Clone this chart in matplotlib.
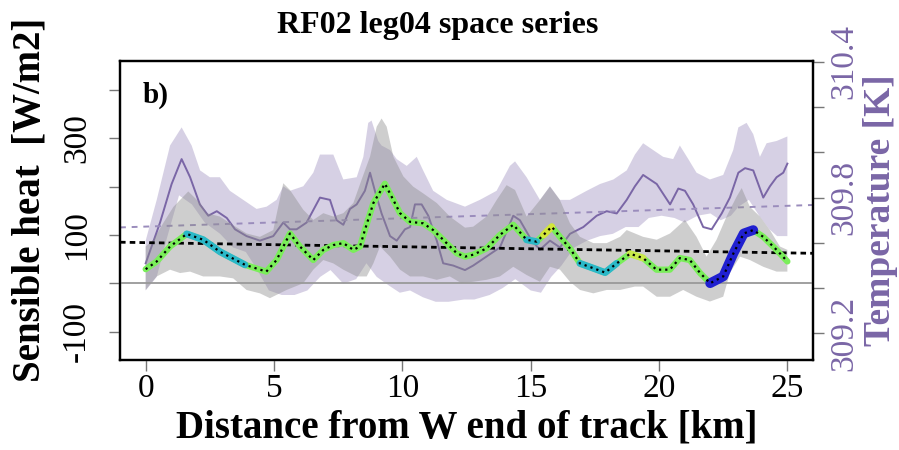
import numpy as np
import matplotlib.pyplot as plt

plt.rcParams['font.family'] = ['Liberation Serif', 'DejaVu Serif']

# sensible heat flux along the leg [W/m2]
heat_km = [0.0, 0.43, 0.95, 1.6, 2.24, 2.9, 3.87, 4.7, 5.1, 5.62, 6.01, 6.53, 6.92, 7.31,
           7.70, 8.09, 8.35, 8.54, 8.87, 9.32, 9.65, 9.91, 10.30, 10.81, 11.20, 11.59,
           12.12, 12.44, 12.76, 13.28, 13.8, 14.32, 14.84, 15.23, 15.5, 15.82, 16.14,
           16.53, 16.92, 17.44, 17.9, 18.35, 18.87, 19.38, 19.9, 20.42, 20.81, 21.2,
           21.6, 21.99, 22.5, 22.9, 23.3, 23.67, 24.06, 24.58, 25.0]
heat_flux = [29, 45, 76, 102, 90, 65, 38, 24, 48, 103, 76, 48, 69, 79,
             83, 69, 76, 110, 166, 206, 172, 145, 127, 124, 110, 90,
             62, 55, 59, 72, 100, 121, 90, 86, 100, 117, 96,
             72, 41, 31, 22, 41, 61, 52, 28, 28, 52, 48,
             21, 0, 14, 62, 103, 110, 96, 69, 45]

# stretches of the heat trace coloured by flight regime
span_start = [1.6, 14.84, 15.5, 16.92, 18.87, 21.99]
span_end = [3.87, 15.23, 15.82, 18.35, 19.38, 23.67]
span_colour = ['#2bb8c8', '#2bb8c8', '#d4e63a', '#2bb8c8', '#c8e84a', '#2020d0']
span_width = [5, 5, 5, 5, 5, 7]

# spread of sensible heat
heat_up_km = [0.0, 0.30, 0.69, 1.08, 1.46, 1.66, 2.12, 2.38, 2.89, 3.41, 3.93, 4.45, 4.97,
              5.36, 5.62, 6.14, 6.53, 6.92, 7.31, 7.70, 8.09, 8.41, 8.74, 9.00, 9.19,
              9.39, 9.65, 10.04, 10.42, 10.81, 11.34, 11.85, 12.44, 12.76, 13.28, 13.67,
              14.06, 14.39, 14.84, 15.36, 15.75, 16.14, 16.53, 16.92, 17.44, 17.96,
              18.48, 18.74, 19.06, 19.38, 19.91, 20.43, 21.01, 21.46, 21.85, 22.24,
              22.63, 23.02, 23.22, 23.54, 23.93, 24.32, 24.71, 25.0]
heat_up = [76, 90, 125, 158, 179, 190, 166, 145, 138, 120, 103, 96, 110,
           207, 193, 152, 131, 145, 138, 145, 166, 214, 262, 324, 341,
           324, 262, 221, 200, 186, 166, 138, 115, 117, 138, 172,
           203, 193, 138, 172, 200, 172, 124, 96, 83, 83,
           96, 110, 103, 96, 90, 103, 131, 96, 55, 90,
           138, 179, 197, 158, 138, 110, 76, 69]
heat_lo_km = [0.0, 0.43, 0.95, 1.34, 1.73, 2.24, 2.89, 3.41, 3.93, 4.45, 4.84, 5.49, 6.14,
              6.53, 6.92, 7.31, 7.70, 8.22, 8.61, 8.87, 9.13, 9.52, 9.91, 10.30, 10.81,
              11.34, 11.85, 12.3, 12.76, 13.28, 13.80, 14.32, 14.84, 15.36, 15.75, 16.14,
              16.53, 16.92, 17.44, 17.96, 18.48, 19.06, 19.38, 19.91, 20.43, 20.94,
              21.46, 21.98, 22.50, 22.76, 23.15, 23.54, 24.06, 24.58, 25.0]
heat_lo = [-14, 14, 28, 21, 24, 14, 14, 10, -14, -21, -31, -14, 0,
           28, 48, 41, 28, 14, 14, 41, 76, 55, 28, 14, 14,
           7, 14, 0, 3, 7, 14, 34, 17, 3, 34, 28,
           3, -14, -21, -14, -14, -7, -7, -28, -28, -14,
           -28, -38, -28, 21, 55, 48, 34, 24, 24]

# air temperature [K]
temp_km = [0.0, 0.56, 1.01, 1.40, 1.73, 2.11, 2.44, 2.77, 3.16, 3.48, 3.93, 4.45, 4.97,
           5.36, 5.62, 5.88, 6.27, 6.79, 7.18, 7.44, 7.70, 7.96, 8.22, 8.54, 8.74, 8.93,
           9.19, 9.52, 9.78, 10.10, 10.30, 10.49, 10.75, 11.01, 11.34, 11.59, 11.98,
           12.44, 12.76, 13.28, 13.80, 14.32, 14.58, 15.04, 15.36, 15.75, 16.14, 16.53,
           17.05, 17.57, 17.96, 18.35, 18.74, 19.06, 19.38, 19.91, 20.43, 20.75, 21.01,
           21.33, 21.72, 22.05, 22.44, 22.76, 23.09, 23.35, 23.67, 24.06, 24.32, 24.58,
           24.84, 25.0]
temp_K = [309.51, 309.69, 309.86, 309.97, 309.89, 309.77, 309.72, 309.74, 309.71, 309.66,
          309.63, 309.61, 309.63, 309.69, 309.66, 309.66, 309.69, 309.80, 309.79, 309.70,
          309.68, 309.75, 309.77, 309.83, 309.91, 309.83, 309.73, 309.63, 309.61, 309.66,
          309.67, 309.77, 309.77, 309.72, 309.61, 309.51, 309.50, 309.48, 309.50, 309.54,
          309.58, 309.72, 309.70, 309.61, 309.57, 309.61, 309.58, 309.64, 309.67, 309.72,
          309.74, 309.73, 309.79, 309.85, 309.90, 309.86, 309.77, 309.84, 309.83, 309.77,
          309.67, 309.66, 309.73, 309.80, 309.91, 309.93, 309.92, 309.80, 309.85, 309.89,
          309.91, 309.95]

# spread of temperature
temp_up_km = [0.0, 0.43, 0.95, 1.40, 1.79, 2.12, 2.50, 2.89, 3.28, 3.80, 4.32, 4.71, 5.10,
              5.36, 5.62, 6.14, 6.53, 6.79, 7.31, 7.70, 8.22, 8.48, 8.67, 8.80, 9.06, 9.19,
              9.52, 9.78, 10.17, 10.56, 10.81, 11.20, 11.73, 12.44, 13.02, 13.67, 14.19,
              14.39, 14.84, 15.36, 15.75, 16.14, 16.53, 17.18, 17.70, 18.22, 18.74, 19.06,
              19.38, 19.77, 20.16, 20.55, 20.81, 21.14, 21.46, 21.98, 22.50, 22.89, 23.09,
              23.41, 23.67, 23.93, 24.19, 24.58, 25.0]
temp_up = [309.61, 309.79, 310.03, 310.11, 310.03, 309.92, 309.89, 309.89, 309.83, 309.79,
           309.75, 309.76, 309.79, 309.85, 309.83, 309.85, 309.91, 309.99, 309.99, 309.88,
           309.89, 309.98, 310.13, 310.14, 310.05, 310.03, 310.01, 309.97, 309.94, 309.98,
           309.92, 309.83, 309.79, 309.76, 309.79, 309.83, 309.94, 309.96, 309.89, 309.79,
           309.85, 309.79, 309.79, 309.83, 309.86, 309.88, 309.92, 309.99, 310.04, 310.01,
           309.98, 309.97, 310.03, 309.97, 309.91, 309.88, 309.90, 310.01, 310.11, 310.13,
           310.08, 309.98, 310.04, 310.05, 310.07]
temp_lo_km = [0.0, 0.43, 0.8, 1.3, 1.8, 2.3, 2.9, 3.4, 3.9, 4.3, 4.8, 5.3, 5.8, 6.3, 6.8,
              7.2, 7.7, 8.2, 8.6, 9.0, 9.5, 9.9, 10.3, 10.8, 11.3, 11.8, 12.4, 12.8, 13.4,
              13.9, 14.4, 15.0, 15.4, 15.8, 16.2, 16.7, 17.2, 17.7, 18.2, 18.7, 19.2, 19.6,
              20.1, 20.6, 21.0, 21.5, 22.0, 22.4, 22.8, 23.1, 23.5, 23.9, 24.3, 24.6, 25.0]
temp_lo = [309.39, 309.45, 309.61, 309.81, 309.77, 309.69, 309.64, 309.58, 309.56, 309.49,
           309.39, 309.37, 309.37, 309.39, 309.45, 309.48, 309.42, 309.44, 309.51, 309.45,
           309.41, 309.38, 309.39, 309.36, 309.34, 309.34, 309.35, 309.35, 309.37, 309.40,
           309.44, 309.39, 309.38, 309.45, 309.50, 309.58, 309.61, 309.63, 309.64, 309.67,
           309.67, 309.71, 309.72, 309.71, 309.69, 309.72, 309.73, 309.70, 309.72, 309.76,
           309.79, 309.72, 309.66, 309.63, 309.63]

# linear trends along the leg (value at 0 km, change per km)
heat_trend = (84.0, -0.85)
temp_trend = (309.672, 0.00367)

purple = '#7a66a6'

fig = plt.figure(figsize=(8.99, 4.5), dpi=100)
ax = fig.add_axes([0.1335, 0.2, 0.7709, 0.6644])
ax2 = ax.twinx()
ax.set_zorder(ax2.get_zorder() + 1)
ax.patch.set_visible(False)

# temperature on the right axis
ax2.fill(np.r_[temp_up_km, temp_lo_km[::-1]], np.r_[temp_up, temp_lo[::-1]],
         color=purple, alpha=0.3, lw=0)
ax2.plot(temp_km, temp_K, color=purple, lw=1.4)
ax2.axline((0, temp_trend[0]), slope=temp_trend[1], color='#9a8cbc', lw=1.4,
           ls=(0, (3, 3)))

# sensible heat on the left axis
ax.fill(np.r_[heat_up_km, heat_lo_km[::-1]], np.r_[heat_up, heat_lo[::-1]],
        color='#8c8c8c', alpha=0.42, lw=0)
ax.axhline(0, color='#999999', lw=1.3)
ax.axline((0, heat_trend[0]), slope=heat_trend[1], color='black', lw=2,
          ls=(0, (2, 1.5)))

km = np.array(heat_km)
hf = np.array(heat_flux)
ax.plot(km, hf, color='#7aee5a', lw=4.5, solid_capstyle='round')
for a, b, c, w in zip(span_start, span_end, span_colour, span_width):
    sel = (km >= a) & (km <= b)
    ax.plot(km[sel], hf[sel], color=c, lw=w, solid_capstyle='round')
ax.plot(km, hf, color='black', lw=1.6, ls=(0, (1, 1.8)))

ax.set_xlim(-1, 26)
ax.set_ylim(-159, 460)
ax2.set_ylim(309.083, 310.403)

ax.set_xticks([0, 5, 10, 15, 20, 25])
ax.set_yticks([-100, 0, 100, 200, 300, 400])
ax.set_yticklabels(['-100', '', '100', '', '300', ''])
ax2.set_yticks([309.2, 309.4, 309.6, 309.8, 310.0, 310.2, 310.4])
ax2.set_yticklabels(['309.2', '', '', '309.8', '', '', '310.4'])

ax.tick_params(axis='both', length=8, width=1, color='#777777', labelsize=24)
ax.tick_params(axis='x', pad=2)
ax.tick_params(axis='y', pad=12, labelrotation=90)
ax2.tick_params(axis='y', length=8, width=1, color='#777777', labelsize=24,
                labelcolor=purple, pad=3, labelrotation=90)
for t in ax.get_yticklabels() + ax2.get_yticklabels():
    t.set_va('center')

for axis in (ax, ax2):
    for s in axis.spines.values():
        s.set_linewidth(1.6)
        s.set_color('black')

ax.text(0.033, 0.886, 'b)', transform=ax.transAxes, fontsize=21,
        fontweight='bold', va='center', ha='left')

fig.text(438 / 899, 1 - 25 / 450, 'RF02 leg04 space series', fontsize=23,
         fontweight='bold', ha='center', va='center')
ax.set_xlabel('Distance from W end of track [km]', fontsize=28, fontweight='bold',
              labelpad=4)
fig.text(30 / 899, 1 - 200 / 450, 'Sensible heat  [W/m2]', fontsize=28,
         fontweight='bold', rotation=90, ha='center', va='center')
fig.text(880 / 899, 1 - 210 / 450, 'Temperature [K]', fontsize=27,
         fontweight='bold', rotation=90, ha='center', va='center', color=purple)

fig.savefig('out.png', dpi=100)
